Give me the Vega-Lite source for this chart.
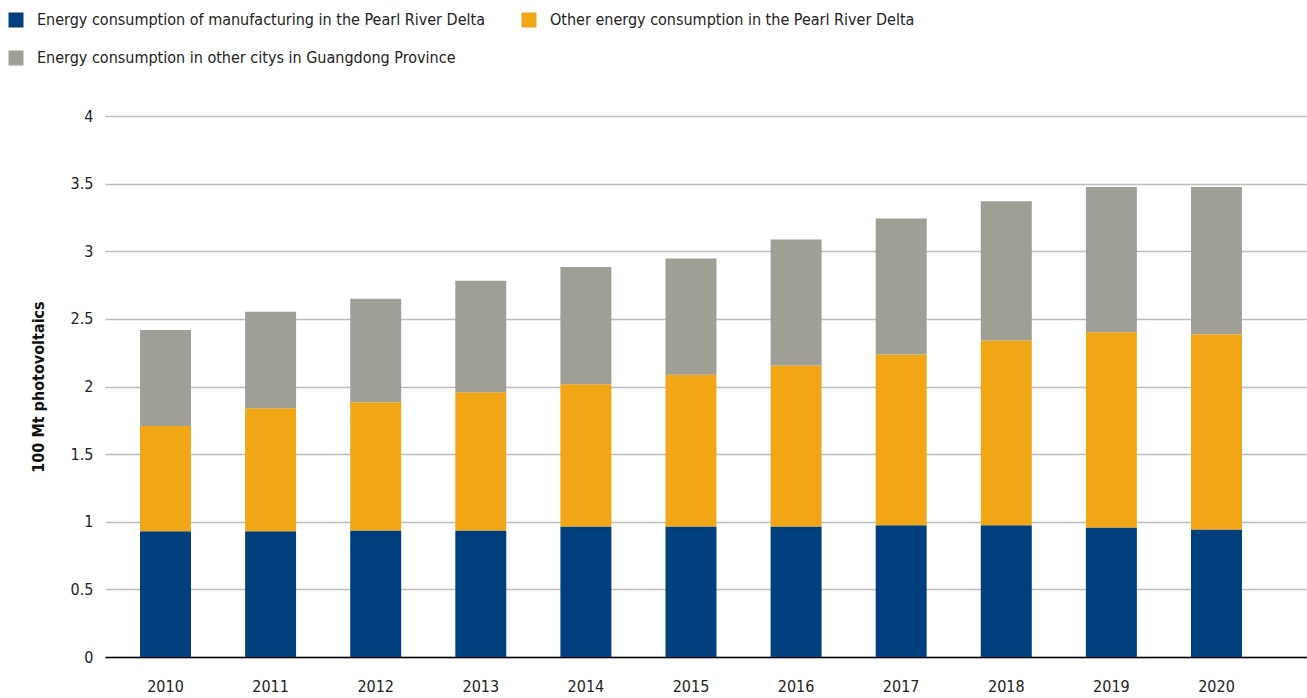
{
  "$schema": "https://vega.github.io/schema/vega-lite/v6.json",
  "width": 1202,
  "height": 541,
  "autosize": "none",
  "padding": {"left": 105, "top": 116, "right": 0, "bottom": 41},
  "background": "white",
  "config": {
    "font": "DejaVu Sans Condensed, Liberation Sans Narrow, Roboto, sans-serif",
    "view": {"stroke": null}
  },
  "data": {
    "values": [
      {"year": "2010", "series": "Energy consumption of manufacturing in the Pearl River Delta", "value": 0.929},
      {"year": "2010", "series": "Other energy consumption in the Pearl River Delta", "value": 0.779},
      {"year": "2010", "series": "Energy consumption in other citys in Guangdong Province", "value": 0.710},
      {"year": "2011", "series": "Energy consumption of manufacturing in the Pearl River Delta", "value": 0.929},
      {"year": "2011", "series": "Other energy consumption in the Pearl River Delta", "value": 0.910},
      {"year": "2011", "series": "Energy consumption in other citys in Guangdong Province", "value": 0.713},
      {"year": "2012", "series": "Energy consumption of manufacturing in the Pearl River Delta", "value": 0.936},
      {"year": "2012", "series": "Other energy consumption in the Pearl River Delta", "value": 0.948},
      {"year": "2012", "series": "Energy consumption in other citys in Guangdong Province", "value": 0.765},
      {"year": "2013", "series": "Energy consumption of manufacturing in the Pearl River Delta", "value": 0.936},
      {"year": "2013", "series": "Other energy consumption in the Pearl River Delta", "value": 1.022},
      {"year": "2013", "series": "Energy consumption in other citys in Guangdong Province", "value": 0.824},
      {"year": "2014", "series": "Energy consumption of manufacturing in the Pearl River Delta", "value": 0.965},
      {"year": "2014", "series": "Other energy consumption in the Pearl River Delta", "value": 1.052},
      {"year": "2014", "series": "Energy consumption in other citys in Guangdong Province", "value": 0.867},
      {"year": "2015", "series": "Energy consumption of manufacturing in the Pearl River Delta", "value": 0.965},
      {"year": "2015", "series": "Other energy consumption in the Pearl River Delta", "value": 1.122},
      {"year": "2015", "series": "Energy consumption in other citys in Guangdong Province", "value": 0.859},
      {"year": "2016", "series": "Energy consumption of manufacturing in the Pearl River Delta", "value": 0.965},
      {"year": "2016", "series": "Other energy consumption in the Pearl River Delta", "value": 1.190},
      {"year": "2016", "series": "Energy consumption in other citys in Guangdong Province", "value": 0.932},
      {"year": "2017", "series": "Energy consumption of manufacturing in the Pearl River Delta", "value": 0.975},
      {"year": "2017", "series": "Other energy consumption in the Pearl River Delta", "value": 1.262},
      {"year": "2017", "series": "Energy consumption in other citys in Guangdong Province", "value": 1.006},
      {"year": "2018", "series": "Energy consumption of manufacturing in the Pearl River Delta", "value": 0.975},
      {"year": "2018", "series": "Other energy consumption in the Pearl River Delta", "value": 1.366},
      {"year": "2018", "series": "Energy consumption in other citys in Guangdong Province", "value": 1.029},
      {"year": "2019", "series": "Energy consumption of manufacturing in the Pearl River Delta", "value": 0.958},
      {"year": "2019", "series": "Other energy consumption in the Pearl River Delta", "value": 1.443},
      {"year": "2019", "series": "Energy consumption in other citys in Guangdong Province", "value": 1.074},
      {"year": "2020", "series": "Energy consumption of manufacturing in the Pearl River Delta", "value": 0.943},
      {"year": "2020", "series": "Other energy consumption in the Pearl River Delta", "value": 1.443},
      {"year": "2020", "series": "Energy consumption in other citys in Guangdong Province", "value": 1.089}
    ]
  },
  "transform": [
    {"calculate": "indexof(['Energy consumption of manufacturing in the Pearl River Delta', 'Other energy consumption in the Pearl River Delta', 'Energy consumption in other citys in Guangdong Province'], datum.series)", "as": "stackOrder"}
  ],
  "mark": {"type": "bar"},
  "encoding": {
    "x": {
      "field": "year",
      "type": "ordinal",
      "scale": {"paddingInner": 0.515, "paddingOuter": 0.476, "align": 0.35},
      "axis": {
        "title": null,
        "labelAngle": 0,
        "labelFontSize": 16,
        "labelColor": "#222222",
        "labelPadding": 21,
        "ticks": false,
        "domainColor": "#000000",
        "domainWidth": 1.5
      }
    },
    "y": {
      "field": "value",
      "type": "quantitative",
      "stack": "zero",
      "scale": {"domain": [0, 4]},
      "axis": {
        "title": "100 Mt photovoltaics",
        "titleFontSize": 16,
        "titleFontWeight": "bold",
        "titleColor": "#111111",
        "titlePadding": 24,
        "values": [0, 0.5, 1, 1.5, 2, 2.5, 3, 3.5, 4],
        "format": "~g",
        "labelFontSize": 16,
        "labelColor": "#222222",
        "labelPadding": 12,
        "ticks": false,
        "domain": false,
        "gridColor": "#bdbdbd",
        "gridWidth": 1.5
      }
    },
    "color": {
      "field": "series",
      "type": "nominal",
      "scale": {
        "domain": [
          "Energy consumption of manufacturing in the Pearl River Delta",
          "Other energy consumption in the Pearl River Delta",
          "Energy consumption in other citys in Guangdong Province"
        ],
        "range": ["#003F7D", "#F1A616", "#9F9F96"]
      },
      "legend": {
        "title": null,
        "orient": "none",
        "legendX": -97,
        "legendY": -104,
        "columns": 2,
        "direction": "horizontal",
        "symbolType": "square",
        "symbolSize": 225,
        "symbolStrokeWidth": 0,
        "labelFontSize": 16,
        "labelColor": "#222222",
        "labelOffset": 13,
        "rowPadding": 22,
        "columnPadding": 36,
        "labelLimit": 600
      }
    },
    "order": {"field": "stackOrder", "type": "quantitative", "sort": "ascending"}
  }
}
